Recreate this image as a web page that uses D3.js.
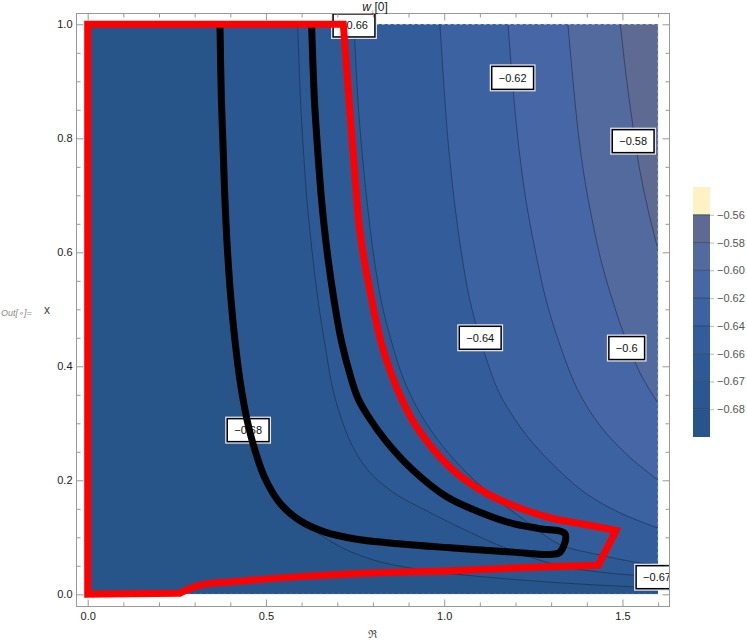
<!DOCTYPE html>
<html>
<head>
<meta charset="utf-8">
<script src="https://cdn.jsdelivr.net/npm/d3@7"></script>
<style>
    body { margin: 0; background: #ffffff; }
    text { font-family: "Liberation Sans", Arial, sans-serif; }
</style>
</head>
<body>
<div id="Chart"></div>
<script>
// contour levels, lowest first
var Levels = [-0.68, -0.67, -0.66, -0.64, -0.62, -0.60, -0.58];
// region colours: below -0.68 first, above -0.56 last
var RegionColors = ["#285589", "#2a5790", "#2d5a94", "#335d9a", "#3c62a1", "#4666a5", "#536a9e", "#5e6a92", "#fdf2c4"];
var LegendLabels = ["\u22120.56", "\u22120.58", "\u22120.60", "\u22120.62", "\u22120.64", "\u22120.66", "\u22120.67", "\u22120.68"];

var XTicks = [0, 0.5, 1.0, 1.5];
var YTicks = [0, 0.2, 0.4, 0.6, 0.8, 1.0];

// contour lines, points as [R, x] (top edge -> right edge)
var Contour068 = [[0.371, 1.0], [0.375, 0.867], [0.380, 0.780], [0.385, 0.692], [0.392, 0.604], [0.402, 0.516], [0.413, 0.446], [0.427, 0.376], [0.448, 0.306], [0.472, 0.253], [0.498, 0.208], [0.532, 0.171], [0.581, 0.137], [0.646, 0.107], [0.722, 0.079], [0.820, 0.057], [0.960, 0.041], [1.157, 0.028], [1.381, 0.018], [1.600, 0.011]];
var Contour067 = [[0.589, 1.0], [0.597, 0.867], [0.605, 0.780], [0.615, 0.692], [0.629, 0.604], [0.646, 0.516], [0.668, 0.429], [0.685, 0.367], [0.708, 0.315], [0.741, 0.262], [0.786, 0.218], [0.856, 0.179], [0.946, 0.148], [1.058, 0.113], [1.185, 0.078], [1.325, 0.050], [1.465, 0.037], [1.600, 0.031]];
var Contour066 = [[0.747, 1.0], [0.758, 0.867], [0.769, 0.780], [0.783, 0.692], [0.800, 0.604], [0.823, 0.516], [0.851, 0.446], [0.887, 0.376], [0.935, 0.315], [0.997, 0.259], [1.070, 0.209], [1.151, 0.165], [1.241, 0.123], [1.325, 0.087], [1.437, 0.069], [1.530, 0.057], [1.600, 0.051]];
var Contour064 = [[0.988, 1.0], [1.002, 0.867], [1.013, 0.780], [1.028, 0.692], [1.047, 0.604], [1.072, 0.516], [1.106, 0.437], [1.151, 0.358], [1.190, 0.315], [1.241, 0.271], [1.311, 0.224], [1.395, 0.178], [1.493, 0.143], [1.600, 0.116]];
var Contour062 = [[1.179, 1.0], [1.196, 0.867], [1.210, 0.780], [1.229, 0.692], [1.255, 0.604], [1.286, 0.516], [1.325, 0.437], [1.375, 0.358], [1.437, 0.296], [1.516, 0.243], [1.600, 0.200]];
var Contour060 = [[1.347, 1.0], [1.361, 0.903], [1.375, 0.815], [1.392, 0.736], [1.415, 0.657], [1.443, 0.578], [1.476, 0.508], [1.510, 0.446], [1.552, 0.385], [1.600, 0.335]];
var Contour058 = [[1.494, 1.0], [1.510, 0.911], [1.527, 0.832], [1.546, 0.753], [1.572, 0.674], [1.600, 0.604]];
var Contours = [Contour068, Contour067, Contour066, Contour064, Contour062, Contour060, Contour058];

// contour labels [R, x, text]
var ContourLabels = [
    [0.747, 0.998, "\u22120.66"],
    [1.192, 0.906, "\u22120.62"],
    [1.530, 0.795, "\u22120.58"],
    [1.101, 0.450, "\u22120.64"],
    [1.512, 0.432, "\u22120.6"],
    [0.450, 0.288, "\u22120.68"],
    [1.597, 0.030, "\u22120.67"]
];

// thick black curve
var BlackCurve = [[0.371, 1.0], [0.375, 0.867], [0.380, 0.780], [0.385, 0.692], [0.392, 0.604], [0.402, 0.516], [0.413, 0.446], [0.427, 0.376], [0.447, 0.306], [0.469, 0.253], [0.497, 0.204], [0.539, 0.160], [0.596, 0.129], [0.666, 0.109], [0.750, 0.097], [0.848, 0.090], [1.007, 0.082], [1.193, 0.074], [1.297, 0.070], [1.325, 0.074], [1.339, 0.106], [1.269, 0.115], [1.193, 0.124], [1.100, 0.144], [1.007, 0.171], [0.912, 0.218], [0.834, 0.271], [0.784, 0.315], [0.758, 0.344], [0.736, 0.385], [0.711, 0.446], [0.691, 0.516], [0.671, 0.604], [0.656, 0.692], [0.645, 0.780], [0.636, 0.867], [0.628, 1.0]];

// red region outline: box corners, upper curve, tip, lower curve
var RedCorners = [[0, 0], [0, 1]];
var RedUpper = [[0.717, 1.0], [0.755, 0.692], [0.764, 0.634], [0.797, 0.516], [0.829, 0.429], [0.882, 0.341], [0.932, 0.285], [1.025, 0.218], [1.119, 0.177], [1.213, 0.151], [1.305, 0.133], [1.400, 0.122], [1.482, 0.112]];
var RedLower = [[1.432, 0.051], [1.193, 0.046], [1.007, 0.041], [0.820, 0.038], [0.596, 0.031], [0.408, 0.022], [0.315, 0.016], [0.259, 0.002]];

function ContourChart(ParentSelector)
{
    var Width = 747, Height = 642;
    var Frame = { Left: 76, Right: 669, Top: 13, Bottom: 606 };

    var Svg = d3.select(ParentSelector).append("svg")
        .attr("width", Width)
        .attr("height", Height);

    var X = d3.scaleLinear().domain([0, 1.6]).range([87.7, 658.1]);
    var Y = d3.scaleLinear().domain([0, 1]).range([594.3, 24.3]);

    var Defs = Svg.append("defs");
    Defs.append("clipPath").attr("id", "DataClip")
        .append("rect")
        .attr("x", X(0)).attr("y", Y(1))
        .attr("width", X(1.6) - X(0)).attr("height", Y(0) - Y(1));
    Defs.append("clipPath").attr("id", "FrameClip")
        .append("rect")
        .attr("x", Frame.Left).attr("y", Frame.Top)
        .attr("width", Frame.Right - Frame.Left).attr("height", Frame.Bottom - Frame.Top);

    var Smooth = d3.line()
        .x(d => X(d[0]))
        .y(d => Y(d[1]))
        .curve(d3.curveCatmullRom.alpha(0.5));
    var Straight = d3.line().x(d => X(d[0])).y(d => Y(d[1]));

    //filled bands
    var Plot = Svg.append("g").attr("clip-path", "url(#DataClip)");
    Plot.append("rect")
        .attr("x", X(0)).attr("y", Y(1))
        .attr("width", X(1.6) - X(0)).attr("height", Y(0) - Y(1))
        .attr("fill", RegionColors[0]);

    Plot.selectAll("path.band")
        .data(Contours)
        .enter()
        .append("path")
        .attr("class", "band")
        .attr("d", d => Smooth(d) + "L" + X(1.6) + "," + Y(1) + "Z")
        .attr("fill", (d, i) => RegionColors[i + 1]);

    Plot.selectAll("path.line")
        .data(Contours)
        .enter()
        .append("path")
        .attr("class", "line")
        .attr("d", Smooth)
        .attr("fill", "none")
        .attr("stroke", "#17243a")
        .attr("stroke-opacity", 0.75)
        .attr("stroke-width", 0.7);

    // faint edge of the sampled region
    Svg.append("rect")
        .attr("x", X(0)).attr("y", Y(1))
        .attr("width", X(1.6) - X(0)).attr("height", Y(0) - Y(1))
        .attr("fill", "none")
        .attr("stroke", "#dce4f2")
        .attr("stroke-opacity", 0.7)
        .attr("stroke-dasharray", "3,3");

    //contour labels
    var LabelLayer = Svg.append("g").attr("clip-path", "url(#FrameClip)");
    var Labels = LabelLayer.selectAll("g.lab")
        .data(ContourLabels)
        .enter()
        .append("g")
        .attr("class", "lab")
        .attr("transform", d => "translate(" + X(d[0]) + "," + Y(d[1]) + ")");
    Labels.each(function (d) {
        var G = d3.select(this);
        var Txt = G.append("text")
            .attr("text-anchor", "middle")
            .attr("dy", "0.35em")
            .attr("font-size", 11)
            .attr("fill", "#111")
            .text(d[2]);
        var W = Txt.node().getComputedTextLength() + 14;
        G.insert("rect", "text")
            .attr("x", -W / 2).attr("y", -11.5)
            .attr("width", W).attr("height", 23)
            .attr("fill", "#ffffff")
            .attr("stroke", "#e3e8f0")
            .attr("stroke-width", 4);
        G.insert("rect", "text")
            .attr("x", -W / 2).attr("y", -11.5)
            .attr("width", W).attr("height", 23)
            .attr("fill", "#ffffff")
            .attr("stroke", "#000000")
            .attr("stroke-width", 1.5);
    });

    //thick curves
    Svg.append("path")
        .attr("d", Smooth(BlackCurve))
        .attr("fill", "none")
        .attr("stroke", "#000000")
        .attr("stroke-width", 7)
        .attr("stroke-linejoin", "round");

    var RedD = Straight(RedCorners)
        + Smooth(RedUpper).replace(/^M/, "L")
        + Smooth(RedLower).replace(/^M/, "L")
        + "Z";
    Svg.append("path")
        .attr("d", RedD)
        .attr("fill", "none")
        .attr("stroke", "#ff0000")
        .attr("stroke-width", 7)
        .attr("stroke-linejoin", "miter");

    //frame and ticks
    Svg.append("rect")
        .attr("x", Frame.Left + 0.5).attr("y", Frame.Top + 0.5)
        .attr("width", Frame.Right - Frame.Left).attr("height", Frame.Bottom - Frame.Top)
        .attr("fill", "none")
        .attr("stroke", "#999999");

    var XMinor = d3.range(0, 17).map(i => i / 10).filter(v => XTicks.indexOf(v) < 0);
    var YMinor = d3.range(0, 21).map(i => i / 20).filter(v => YTicks.indexOf(v) < 0);

    function AddAxis(Axis, Tx, Ty)
    {
        var G = Svg.append("g")
            .attr("transform", "translate(" + Tx + "," + Ty + ")")
            .call(Axis);
        G.select(".domain").remove();
        G.selectAll("line").attr("stroke", "#999999");
        G.selectAll("text").attr("font-size", 11).attr("fill", "#222").style("font-family", "'Liberation Sans', Arial, sans-serif");
        return G;
    }

    var Fmt = d3.format(".1f");
    AddAxis(d3.axisBottom(X).tickValues(XTicks).tickFormat(Fmt).tickSizeInner(-7).tickSizeOuter(0).tickPadding(6), 0, Frame.Bottom + 0.5);
    AddAxis(d3.axisBottom(X).tickValues(XMinor).tickFormat("").tickSizeInner(-4).tickSizeOuter(0), 0, Frame.Bottom + 0.5);
    AddAxis(d3.axisTop(X).tickValues(XTicks).tickFormat("").tickSizeInner(-7).tickSizeOuter(0), 0, Frame.Top + 0.5);
    AddAxis(d3.axisTop(X).tickValues(XMinor).tickFormat("").tickSizeInner(-4).tickSizeOuter(0), 0, Frame.Top + 0.5);
    AddAxis(d3.axisLeft(Y).tickValues(YTicks).tickFormat(Fmt).tickSizeInner(-7).tickSizeOuter(0).tickPadding(4), Frame.Left + 0.5, 0);
    AddAxis(d3.axisLeft(Y).tickValues(YMinor).tickFormat("").tickSizeInner(-4).tickSizeOuter(0), Frame.Left + 0.5, 0);
    AddAxis(d3.axisRight(Y).tickValues(YTicks).tickFormat("").tickSizeInner(-7).tickSizeOuter(0), Frame.Right + 0.5, 0);
    AddAxis(d3.axisRight(Y).tickValues(YMinor).tickFormat("").tickSizeInner(-4).tickSizeOuter(0), Frame.Right + 0.5, 0);

    //labels
    Svg.append("text")
        .attr("x", 372).attr("y", 638)
        .attr("text-anchor", "middle")
        .attr("font-size", 11)
        .attr("fill", "#444")
        .text("\u211C");
    Svg.append("text")
        .attr("x", 47).attr("y", 314)
        .attr("text-anchor", "middle")
        .attr("font-size", 12)
        .attr("fill", "#444")
        .text("x");
    Svg.append("text")
        .attr("x", 1).attr("y", 316)
        .attr("font-size", 9)
        .attr("font-style", "italic")
        .attr("fill", "#8a8a8a")
        .text("Out[\u2218]=");

    var Title = Svg.append("text")
        .attr("x", 375).attr("y", 11)
        .attr("text-anchor", "middle")
        .attr("font-size", 12)
        .attr("fill", "#222");
    Title.append("tspan").attr("font-style", "italic").text("w");
    Title.append("tspan").attr("font-size", 7).attr("dy", 3).text("\u2193");
    Title.append("tspan").attr("dy", -3).text("[0]");

    //legend
    var LegendScale = d3.scaleLinear().domain([0, 9]).range([187, 437]);
    var LegendColors = RegionColors.slice().reverse();
    var Legend = Svg.append("g");
    Legend.selectAll("rect")
        .data(LegendColors)
        .enter()
        .append("rect")
        .attr("x", 693)
        .attr("y", (d, i) => LegendScale(i))
        .attr("width", 17)
        .attr("height", LegendScale(1) - LegendScale(0))
        .attr("fill", d => d);
    Legend.selectAll("line.sep")
        .data(d3.range(1, 9))
        .enter()
        .append("line")
        .attr("class", "sep")
        .attr("x1", 693).attr("x2", 710)
        .attr("y1", d => LegendScale(d)).attr("y2", d => LegendScale(d))
        .attr("stroke", "#1d2d4a")
        .attr("stroke-opacity", 0.6)
        .attr("stroke-width", 1);
    var LegendAxis = AddAxis(d3.axisRight(LegendScale).tickValues(d3.range(1, 9)).tickFormat(i => LegendLabels[i - 1]).tickSizeInner(4).tickSizeOuter(0).tickPadding(3), 710, 0);
    LegendAxis.selectAll("text").attr("fill", "#555");
    LegendAxis.selectAll("line").attr("stroke", "#bbbbbb");
}

ContourChart("#Chart");
</script>
</body>
</html>
